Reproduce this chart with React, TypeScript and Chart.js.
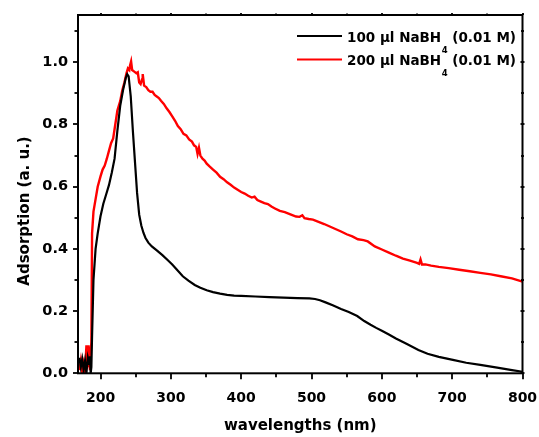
import React, { useEffect, useRef } from 'react';
import { Chart, registerables } from 'chart.js';

Chart.register(...registerables);

// ---- data ----
const blackNm = [170, 172, 174, 176, 178, 180, 182, 184, 185, 186, 187, 188, 190, 193, 196, 200, 204, 208, 212, 216, 220, 224, 228, 232, 236, 238, 240, 243, 246, 249, 252, 255, 258, 261, 264, 268, 273, 280, 288, 295, 302, 310, 317, 325, 334, 342, 351, 360, 370, 380, 390, 400, 420, 440, 460, 480, 497, 505, 512, 520, 531, 542, 553, 565, 575, 584, 592, 600, 610, 620, 635, 652, 665, 681, 701, 720, 740, 764, 785, 800];
const blackAbs = [0.05, 0.02, 0.045, 0.01, 0.04, 0.0, 0.05, 0.03, 0.055, 0.0, 0.02, 0.12, 0.3, 0.4, 0.45, 0.505, 0.545, 0.575, 0.605, 0.645, 0.69, 0.78, 0.86, 0.91, 0.95, 0.962, 0.955, 0.89, 0.78, 0.68, 0.58, 0.51, 0.475, 0.452, 0.435, 0.42, 0.408, 0.395, 0.38, 0.365, 0.35, 0.33, 0.312, 0.298, 0.284, 0.275, 0.267, 0.261, 0.256, 0.252, 0.25, 0.249, 0.247, 0.245, 0.243, 0.242, 0.241, 0.239, 0.235, 0.228, 0.218, 0.207, 0.197, 0.184, 0.168, 0.156, 0.146, 0.137, 0.125, 0.112, 0.095, 0.075, 0.063, 0.053, 0.043, 0.034, 0.027, 0.018, 0.01, 0.005];

const redNm = [170, 172, 174, 176, 178, 180, 181, 182, 183, 184, 185, 186, 187, 188, 190, 193, 196, 200, 203, 206, 209, 212, 215, 218, 221, 224, 228, 231, 234, 237, 239, 241, 242, 243.5, 245, 248, 251, 253, 255, 257, 259, 260, 262, 265, 268, 271, 274, 277, 280, 283, 286, 290, 294, 298, 302, 306, 310, 314, 318, 322, 326, 330, 333, 336, 338, 340, 342, 345, 348, 351, 355, 360, 365, 370, 375, 380, 385, 390, 395, 400, 405, 410, 415, 419, 423, 428, 433, 438, 443, 448, 455, 462, 470, 478, 483, 487, 490, 496, 502, 510, 518, 526, 534, 542, 550, 558, 566, 574, 580, 590, 600, 610, 620, 630, 640, 650, 653, 655, 657, 662, 670, 681, 695, 710, 725, 740, 755, 769, 785, 800];
const redAbs = [0.01, 0.04, 0.0, 0.03, 0.0, 0.09, 0.05, 0.02, 0.09, 0.04, 0.01, 0.06, 0.1, 0.45, 0.52, 0.56, 0.6, 0.633, 0.655, 0.668, 0.69, 0.715, 0.74, 0.755, 0.8, 0.845, 0.875, 0.91, 0.935, 0.965, 0.98, 0.975, 0.99, 1.003, 0.975, 0.97, 0.965, 0.968, 0.935, 0.93, 0.945, 0.962, 0.925, 0.92, 0.91, 0.905, 0.905, 0.895, 0.89, 0.885, 0.876, 0.866, 0.852, 0.84, 0.826, 0.812, 0.795, 0.785, 0.77, 0.765, 0.752, 0.745, 0.733, 0.728, 0.705, 0.725, 0.7, 0.69, 0.684, 0.674, 0.665, 0.655, 0.645, 0.632, 0.624, 0.614, 0.606, 0.597, 0.59, 0.583, 0.578, 0.571, 0.565, 0.568, 0.557, 0.552, 0.547, 0.544, 0.536, 0.53, 0.522, 0.518, 0.511, 0.504, 0.503, 0.508, 0.499, 0.496, 0.494, 0.487, 0.48, 0.472, 0.464, 0.456, 0.447, 0.44, 0.431, 0.428, 0.424, 0.408, 0.398, 0.388, 0.378, 0.369, 0.362, 0.355, 0.352, 0.366, 0.35, 0.35, 0.346, 0.342, 0.338, 0.333, 0.328, 0.323, 0.318, 0.312, 0.305, 0.295];

const xMajorTicks = [200, 300, 400, 500, 600, 700, 800];
const xMinorTicks = [250, 350, 450, 550, 650, 750];
const yMajorTicks = [0, 0.2, 0.4, 0.6, 0.8, 1.0];
const yMinorTicks = [0.1, 0.3, 0.5, 0.7, 0.9, 1.1];

const seriesNames = ['100 μl NaBH', '200 μl NaBH'];
const seriesSub = '4';
const seriesSuffix = ' (0.01 M)';
const seriesColors = ['#000000', '#ff0000'];
const xTitle = 'wavelengths (nm)';
const yTitle = 'Adsorption (a. u.)';

const FONT = '"DejaVu Sans", "Liberation Sans", Arial, sans-serif';

const framePlugin = {
  id: 'originFrame',
  afterDraw(chart: any) {
    const { ctx, chartArea: a, scales } = chart;
    const xs = scales.x;
    const ys = scales.y;
    ctx.save();
    ctx.strokeStyle = '#000';
    ctx.lineWidth = 2;
    ctx.lineCap = 'butt';
    ctx.strokeRect(a.left, a.top, a.right - a.left, a.bottom - a.top);
    const seg = (x1: number, y1: number, x2: number, y2: number) => {
      ctx.beginPath();
      ctx.moveTo(x1, y1);
      ctx.lineTo(x2, y2);
      ctx.stroke();
    };
    ctx.lineWidth = 1.8;
    xMajorTicks.forEach((v) => {
      const p = Math.round(xs.getPixelForValue(v));
      seg(p, a.bottom, p, a.bottom + 6);
      seg(p, a.top, p, a.top - 2);
    });
    xMinorTicks.forEach((v) => {
      const p = Math.round(xs.getPixelForValue(v));
      seg(p, a.bottom, p, a.bottom + 4);
      seg(p, a.top, p, a.top - 1.5);
    });
    yMajorTicks.forEach((v) => {
      const p = Math.round(ys.getPixelForValue(v));
      seg(a.left, p, a.left - 5, p);
      seg(a.right - 2, p, a.right + 2, p);
    });
    yMinorTicks.forEach((v) => {
      const p = Math.round(ys.getPixelForValue(v));
      seg(a.left, p, a.left - 3.5, p);
      seg(a.right - 1.5, p, a.right + 1.5, p);
    });

    // axis titles
    ctx.fillStyle = '#000';
    ctx.font = `bold 15px ${FONT}`;
    ctx.textAlign = 'center';
    ctx.textBaseline = 'alphabetic';
    ctx.fillText(xTitle, (a.left + a.right) / 2, 430);
    ctx.save();
    ctx.translate(28.5, 211);
    ctx.rotate(-Math.PI / 2);
    ctx.fillText(yTitle, 0, 0);
    ctx.restore();

    // legend
    const rowsY = [36, 59.5];
    seriesNames.forEach((name, i) => {
      const cy = rowsY[i];
      ctx.strokeStyle = seriesColors[i];
      ctx.lineWidth = 2.2;
      seg(297, cy, 342, cy);
      ctx.fillStyle = '#000';
      ctx.textAlign = 'left';
      ctx.textBaseline = 'alphabetic';
      ctx.font = `bold 13.5px ${FONT}`;
      const base = cy + 5.5;
      let x = 347;
      ctx.fillText(name, x, base);
      x += ctx.measureText(name).width;
      ctx.font = `bold 8.5px ${FONT}`;
      ctx.fillText(seriesSub, x + 0.5, base + 11);
      x += ctx.measureText(seriesSub).width + 0.5;
      ctx.font = `bold 13.5px ${FONT}`;
      ctx.fillText(seriesSuffix, x, base);
    });
    ctx.restore();
  },
};

export default function App() {
  const canvasRef = useRef<HTMLCanvasElement | null>(null);

  useEffect(() => {
    document.body.style.margin = '0';
    const canvas = canvasRef.current;
    if (!canvas) return;
    const chart = new Chart(canvas, {
      type: 'line',
      data: {
        datasets: [
          {
            label: seriesNames[0] + seriesSub + seriesSuffix,
            data: blackNm.map((x, i) => ({ x, y: blackAbs[i] })),
            borderColor: seriesColors[0],
            borderWidth: 2.2,
            pointRadius: 0,
            tension: 0,
            fill: false,
          },
          {
            label: seriesNames[1] + seriesSub + seriesSuffix,
            data: redNm.map((x, i) => ({ x, y: redAbs[i] })),
            borderColor: seriesColors[1],
            borderWidth: 2.4,
            pointRadius: 0,
            tension: 0,
            fill: false,
          },
        ],
      },
      options: {
        responsive: false,
        animation: false,
        devicePixelRatio: 1,
        layout: { padding: { top: 15, right: 16.5, left: 0, bottom: 0 } },
        plugins: {
          legend: { display: false },
          tooltip: { enabled: false },
        },
        scales: {
          x: {
            type: 'linear',
            min: 168,
            max: 800,
            grid: { display: false, drawTicks: false },
            border: { display: false },
            afterBuildTicks: (scale: any) => {
              scale.ticks = xMajorTicks.map((v) => ({ value: v }));
            },
            afterFit: (scale: any) => {
              scale.height = 63.7;
              scale.paddingLeft = 0;
              scale.paddingRight = 0;
            },
            ticks: {
              color: '#000',
              padding: 17,
              maxRotation: 0,
              autoSkip: false,
              font: { family: FONT, size: 14, weight: 'bold' },
              callback: (v: any) => String(v),
            },
          },
          y: {
            type: 'linear',
            min: 0,
            max: 1.152,
            grid: { display: false, drawTicks: false },
            border: { display: false },
            afterBuildTicks: (scale: any) => {
              scale.ticks = yMajorTicks.map((v) => ({ value: v }));
            },
            afterFit: (scale: any) => {
              scale.width = 78;
              scale.paddingTop = 0;
              scale.paddingBottom = 0;
            },
            ticks: {
              color: '#000',
              padding: 10,
              autoSkip: false,
              font: { family: FONT, size: 14.5, weight: 'bold' },
              callback: (v: any) => Number(v).toFixed(1),
            },
          },
        },
      },
      plugins: [framePlugin],
    });
    return () => chart.destroy();
  }, []);

  return <canvas ref={canvasRef} width={539} height={437} style={{ display: 'block' }} />;
}
